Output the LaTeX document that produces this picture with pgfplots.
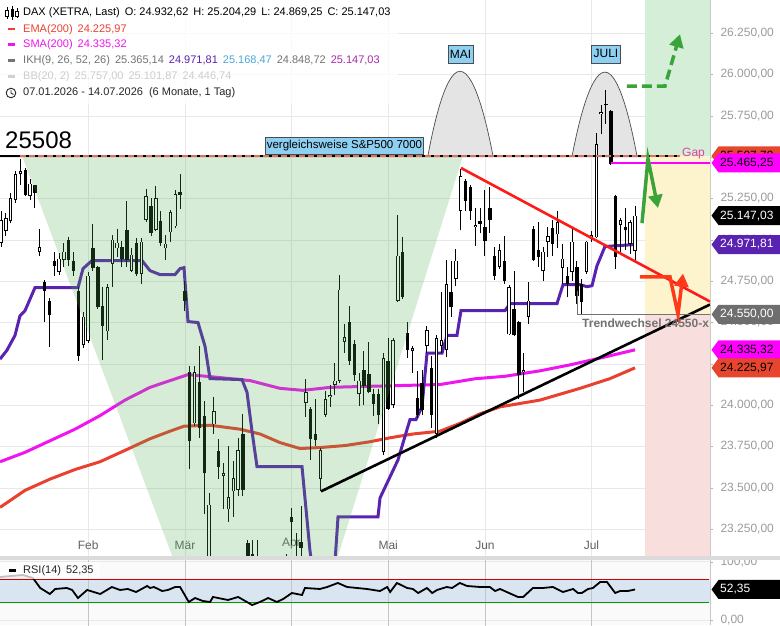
\documentclass[border=0pt]{standalone}
\usepackage{pgfplots}
\pgfplotsset{compat=1.18}
\usepackage{pgfplotstable}
\usepackage{fontspec}
\setmainfont{Liberation Sans}
\usetikzlibrary{arrows.meta}

\definecolor{emac}{HTML}{EA4030}
\definecolor{smac}{HTML}{F014F0}
\definecolor{ikhc}{HTML}{5A22B0}
\definecolor{vgreen}{HTML}{4CAF50}
\definecolor{zgreen}{HTML}{D4EED7}
\definecolor{zyellow}{HTML}{FDF3CD}
\definecolor{zpink}{HTML}{F9DEDE}
\definecolor{cupg}{HTML}{E4E4E4}
\definecolor{boxblue}{HTML}{8DD0F2}
\definecolor{arrg}{HTML}{3AA43A}
\definecolor{arrr}{HTML}{FF3A1A}
\definecolor{dashsal}{HTML}{E07060}
\definecolor{gapc}{HTML}{E040A0}
\definecolor{rsiband}{HTML}{D9E5F1}
\definecolor{gridc}{HTML}{E8E8E8}
\definecolor{tickc}{HTML}{9A9A9A}
\definecolor{trred}{HTML}{FF1A1A}
\definecolor{tagred}{HTML}{E8452E}
\definecolor{tagmag}{HTML}{FF00FF}
\definecolor{taggray}{HTML}{6E6E6E}
\definecolor{ikhblue}{HTML}{4AA8D8}
\definecolor{ikhmag}{HTML}{A62AA8}

\pgfplotstableread{
i o h l c
0 24984 25174 24960 25119
1 25052 25162 25021 25131
2 25113 25285 25101 25254
3 25242 25416 25224 25397
4 25397 25491 25335 25416
6 25267 25366 25242 25341
8 24929 25064 24905 24954
12 24808 24923 24790 24887
13 24881 24984 24838 24929
17 24363 24566 24345 24536
18 24387 24808 24375 24784
22 24446 24735 24393 24717
23 24857 25027 24717 25002
24 24948 25064 24899 24984
27 24814 24948 24808 24911
29 24796 25009 24735 24990
30 25119 25310 25107 25267
32 25058 25323 25052 25254
34 24948 25027 24881 24978
35 25045 25181 24990 25168
36 25082 25304 25070 25279
40 23890 24238 23873 24202
43 23050 23467 22980 23399
44 23884 24048 23826 23966
46 23571 23652 23370 23588
47 23370 23756 23296 23444
48 23479 23663 23324 23560
49 23490 23802 23450 23727
53 23050 23182 22950 23090
56 22800 22950 22700 22900
58 22850 23000 22750 22950
59 22950 23100 22900 23050
63 24013 24161 23931 24078
66 23554 23744 23479 23727
67 23943 24089 23931 24037
68 24049 24125 23990 24061
69 24125 24255 24061 24149
70 24149 24790 24137 24699
71 24381 24494 24315 24410
74 24066 24196 23995 24149
79 23720 24315 23700 24285
81 24001 24405 23984 24393
82 24633 25149 24627 24905
85 24327 24357 24196 24345
88 24357 24482 24315 24452
90 23826 24422 23802 24405
91 24357 24687 24315 24393
92 24333 24881 24291 24735
94 24766 24942 24723 24875
95 25174 25428 25058 25385
98 25076 25193 24966 25089
103 24838 24978 24826 24936
105 24428 24729 24422 24717
108 24202 24315 24078 24214
109 24536 24747 24494 24633
112 24814 24960 24753 24929
113 24990 25076 24899 25021
115 25033 25174 24948 25107
116 24832 24978 24735 24887
118 24808 25076 24753 24990
121 24808 24996 24796 24990
122 25009 25052 24990 25027
123 25015 25647 25009 25578
124 25759 25816 25641 25772
125 25816 25905 25703 25822
128 25089 25131 24917 25119
130 24978 25119 24917 25107
131 24932.62 25204.29 24869.25 25147.03
}\upc

\pgfplotstableread{
i o h l c
5 25422 25435 25267 25273
7 25329 25335 25193 25285
9 24747 24759 24506 24693
10 24633 24651 24351 24548
11 24875 24929 24784 24844
14 25002 25015 24844 24881
15 24875 24929 24784 24814
16 24693 24717 24267 24297
19 24948 25095 24814 24832
20 24838 24844 24584 24596
21 24603 24717 24273 24482
25 24954 24996 24838 24887
26 25058 25236 24838 24881
28 24984 25009 24784 24796
31 25205 25254 25021 25039
33 25113 25174 24966 24984
37 25292 25397 25187 25273
38 24693 24753 24572 24633
39 24202 24238 23612 23785
41 24143 24357 23802 23861
42 23937 24025 23342 23588
45 23721 23797 23554 23629
50 23826 23949 23450 23490
51 23165 23182 23000 23080
52 23100 23182 22980 23060
54 23000 23080 22850 22900
55 22900 23000 22750 22800
57 22900 23050 22800 22850
60 23324 23376 23154 23296
61 23080 23227 22950 23020
62 23170 23393 23050 23135
64 23976 23988 23669 23795
65 23826 24037 23756 23791
72 24506 24602 24244 24267
73 24369 24393 24149 24184
75 24214 24327 24001 24119
76 24190 24381 24072 24078
77 24066 24096 23937 24007
78 24066 24096 23884 23943
80 24267 24405 23972 23976
83 24929 25015 24645 24657
84 24434 24506 24285 24333
86 24043 24208 23920 23943
87 24137 24214 23943 23972
89 24226 24297 23861 23943
93 24687 24875 24536 24596
96 25354 25366 25174 25236
97 25317 25329 25119 25174
99 25113 25193 25039 25095
100 25076 25304 24905 24996
101 25193 25317 25039 25119
102 24905 24960 24759 24784
104 24875 25021 24735 24753
106 24584 24814 24416 24422
107 24506 24512 24037 24184
110 25064 25082 24875 24881
111 24936 25107 24838 24899
114 25070 25119 24905 24978
117 24784 24838 24657 24735
119 24838 24875 24615 24663
120 24735 24765 24554 24627
126 25778 25785 25453 25460
127 25267 25273 24826 24899
129 25076 25193 24936 25058
}\downc

\pgfplotstableread{
x y
-0.2 23382
4.96 23485
10.12 23553
15.29 23611
20.45 23658
25.62 23727
30.79 23797
34.92 23843
37.81 23873
43.18 23879
49.38 23855
53.51 23826
57.64 23774
61.78 23738
65.91 23744
71.07 23756
76.24 23779
80.37 23803
85.12 23826
90.70 23843
94.83 23890
98.97 23948
103.10 23990
111.36 24031
119.63 24102
125.83 24161
131.0 24226
}\ema

\pgfplotstableread{
x y
-0.2 23658
4.96 23715
10.12 23785
15.29 23855
20.45 23937
25.62 24031
30.79 24108
34.92 24149
38.64 24185
43.18 24173
51.45 24149
57.64 24102
62.40 24090
67.98 24108
74.17 24113
82.44 24119
90.70 24125
97.93 24160
104.13 24175
111.36 24208
117.56 24244
123.76 24285
131.0 24335
}\sma

\pgfplotstableread{
x y
-0.2 24279
1.24 24333
2.89 24422
3.93 24542
4.96 24572
7.02 24711
15.91 24711
16.94 24826
18.80 24875
29.13 24875
30.79 24814
32.85 24790
35.95 24790
36.98 24826
37.81 24832
38.64 24506
40.70 24500
42.15 24357
43.18 24161
49.79 24155
50.83 24078
51.86 23843
52.89 23629
62.19 23629
63.84 23119
65.08 22870
68.60 22870
69.63 23324
77.89 23324
78.31 23439
82.02 23669
84.50 23913
85.74 23913
86.98 23990
88.02 24315
91.12 24315
92.15 24422
94.21 24422
95.04 24572
104.13 24572
105.17 24615
114.88 24615
116.12 24729
119.63 24729
121.07 24717
122.11 24723
123.14 24844
124.79 24960
131.0 24972
}\ikh

\pgfplotstableread{
x y
-0.2 73.8
4.5 77.2
6.6 72
8.1 54.9
10.1 44.6
11.2 53.2
13.6 54.9
14.7 51.5
15.9 37.7
17.8 51.5
20.5 44.6
22.9 56.6
24.6 51.5
26.2 53.2
27.9 48
30.2 58.3
30.8 54.9
31.6 56.6
33.3 49.7
34.5 51.5
36.0 56.6
37.0 56.6
38.8 30.9
40.1 37.7
41.7 32.6
43.2 30.9
43.8 39.5
46.9 34.3
49.0 39.5
51.9 25.7
53.5 30.9
55.2 37.7
57.0 30.9
58.3 36
60.1 46.3
62.2 42.9
62.8 54.9
65.9 53.2
67.4 56.6
69.6 63.5
71.5 56.6
75.6 53.2
78.3 49.7
79.8 56.6
80.4 48
81.8 63.5
83.9 54.9
85.1 53.2
86.2 46.3
88.0 54.9
89.1 46.3
90.1 51.5
92.1 56.6
93.2 54.9
94.8 63.5
96.3 58.3
99.0 56.6
101.0 56.6
102.1 49.7
103.1 53.2
106.8 39.5
107.9 39.5
109.9 54.9
112.0 54.9
114.0 56.6
116.1 48
118.2 53.2
119.2 46.3
120.0 46.3
121.3 53.2
122.3 54.9
123.8 65.2
125.2 65.2
126.9 46.3
127.9 49.7
129.5 49.7
131.0 52.35
}\rsi

\newcommand\tagfont{\fontsize{12}{12}\selectfont}
\newcommand\ptag[4]{%
  \fill[#2] ([xshift=1.5pt]#1) -- ([xshift=8.5pt,yshift=9.5pt]#1) -- ([xshift=72pt,yshift=9.5pt]#1) -- ([xshift=72pt,yshift=-9.5pt]#1) -- ([xshift=8.5pt,yshift=-9.5pt]#1) -- cycle;
  \node[anchor=west, text=#3, font=\tagfont, inner sep=0pt] at ([xshift=10pt]#1) {#4};}

\begin{document}
\begin{tikzpicture}
\useasboundingbox (0pt,0pt) rectangle (780pt,625pt);
\begin{axis}[
  at={(0pt,69pt)}, anchor=south west,
  scale only axis, width=710pt, height=556pt,
  xmin=-0.207, xmax=146.49,
  ymin=23088, ymax=26451,
  scaled y ticks=false,
  axis x line*=bottom, axis y line*=right,
  x axis line style={draw=none},
  y axis line style={draw=black!22},
  xtick={18,38,60,80,100,122},
  xticklabels={Feb,Mär,Apr,Mai,Jun,Jul},
  xticklabel style={anchor=south, yshift=6pt, font=\fontsize{12}{12}\selectfont, text=black!62},
  xtick style={draw=none},
  ytick={23250,23500,23750,24000,24250,24500,24750,25000,25250,25500,25750,26000,26250},
  yticklabels={{23.250,00},{23.500,00},{23.750,00},{24.000,00},{},{24.500,00},{24.750,00},{25.000,00},{25.250,00},{},{25.750,00},{26.000,00},{26.250,00}},
  yticklabel style={font=\fontsize{12}{12}\selectfont, text=tickc, xshift=4pt},
  ytick style={black!30},
  tick align=outside, major tick length=3pt,
  minor tick num=0,
  grid=major, major grid style={gridc, line width=0.7pt},
  clip mode=individual,
]
% right zones
\addplot[fill=zgreen, draw=none, forget plot] coordinates {(133.06,25508)(147,25508)(147,26600)(133.06,26600)} -- cycle;
\addplot[fill=zyellow, draw=none, forget plot] coordinates {(133.06,24550)(147,24550)(147,25508)(133.06,25508)} -- cycle;
\addplot[fill=zpink, draw=none, forget plot] coordinates {(133.06,23000)(147,23000)(147,24550)(133.06,24550)} -- cycle;
% cups
\draw[fill=cupg, draw=black!70, line width=0.7pt] (axis cs:88.2,25508) parabola bend (axis cs:94.83,26020) (axis cs:101.65,25508);
\draw[fill=cupg, draw=black!70, line width=0.7pt] (axis cs:118.0,25508) parabola bend (axis cs:124.79,26015) (axis cs:131.4,25508);
% indicator lines
\addplot[emac, line width=3pt, forget plot] table[x=x,y=y] {\ema};
\addplot[smac, line width=3pt, forget plot] table[x=x,y=y] {\sma};
\addplot[ikhc, line width=3pt, forget plot] table[x=x,y=y] {\ikh};
% candles: wicks
\addplot[draw=none, mark=none, forget plot, error bars/.cd, y dir=plus, y explicit, error mark=none, error bar style={draw=black, solid, line width=1pt}] table[x=i, y=l, y error plus expr={\thisrow{h}-\thisrow{l}}] {\upc};
\addplot[draw=none, mark=none, forget plot, error bars/.cd, y dir=plus, y explicit, error mark=none, error bar style={draw=black, solid, line width=1pt}] table[x=i, y=l, y error plus expr={\thisrow{h}-\thisrow{l}}] {\downc};
% bodies
\addplot[draw=none, mark=none, forget plot, error bars/.cd, y dir=plus, y explicit, error mark=none, error bar style={draw=black, solid, line width=3.4pt}] table[x=i, y=c, y error plus expr={max(\thisrow{o}-\thisrow{c},7)}] {\downc};
\addplot[draw=none, mark=none, forget plot, error bars/.cd, y dir=plus, y explicit, error mark=none, error bar style={draw=black, solid, line width=3.4pt}] table[x=i, y=o, y error plus expr={max(\thisrow{c}-\thisrow{o},8)}] {\upc};
\addplot[draw=none, mark=none, forget plot, error bars/.cd, y dir=plus, y explicit, error mark=none, error bar style={draw=white, solid, line width=1.5pt}] table[x=i, y expr={\thisrow{o}+5}, y error plus expr={max(\thisrow{c}-\thisrow{o}-10,0)}] {\upc};
% green V overlay
\addplot[fill=vgreen, fill opacity=0.23, draw=none, forget plot] coordinates {(4.34,25508)(95.45,25508)(68.7,23000)(36.5,23000)} -- cycle;
% horizontal 25508 line
\addplot[black, line width=2.6pt, forget plot] coordinates {(-0.3,25508)(140.3,25508)};
\addplot[dashsal, line width=2pt, dash pattern=on 6pt off 3pt, forget plot] coordinates {(4.0,25508)(140.3,25508)};
% gap line
\addplot[tagmag, line width=1.2pt, forget plot] coordinates {(126.03,25465.25)(146.49,25465.25)};
% trend lines
\addplot[trred, line width=2.6pt, forget plot] coordinates {(95.04,25435)(146.49,24627)};
\addplot[black, line width=2.6pt, forget plot] coordinates {(66.12,23479)(146.49,24609)};
\addplot[black!55, line width=0.9pt, forget plot] coordinates {(119.0,24693)(119.0,24550)(146.49,24550)};
% arrows
\draw[arrg, line width=3.5pt, dash pattern=on 10pt off 5pt, -{Triangle[width=14pt,length=13pt]}] (axis cs:129.34,25930) -- (axis cs:137.19,25930) -- (axis cs:140.29,26244);
\draw[arrg, line width=3.5pt, -{Triangle[width=14pt,length=13pt]}] (axis cs:132.44,25101) -- (axis cs:133.68,25491) -- (axis cs:135.74,25193);
\draw[arrr, line width=3.5pt, -{Triangle[width=14pt,length=13pt]}] (axis cs:132.02,24777) -- (axis cs:138.22,24777) -- (axis cs:139.88,24550) -- (axis cs:140.91,24796);
% annotations
\node[fill=boxblue, draw=black!70, inner xsep=2pt, inner ysep=0pt, minimum height=18pt, font=\fontsize{12}{12}\selectfont] at (axis cs:94.94,26125) {MAI};
\node[fill=boxblue, draw=black!70, inner xsep=2pt, inner ysep=0pt, minimum height=18pt, font=\fontsize{12}{12}\selectfont] at (axis cs:125.0,26125) {JULI};
\node[fill=boxblue, draw=black!70, inner xsep=1.5pt, inner ysep=0pt, minimum height=17pt, font=\fontsize{11.5}{11.5}\selectfont] at (axis cs:70.97,25572) {vergleichsweise S\&P500 7000};
\node[anchor=west, inner sep=0pt, font=\fontsize{24}{24}\selectfont] at (axis cs:0.83,25603) {25508};
\node[anchor=west, inner sep=0pt, text=gapc, font=\fontsize{12}{12}\selectfont] at (axis cs:140.7,25525) {Gap};
\node[anchor=west, inner sep=0pt, text=black!55, font=\bfseries\fontsize{12}{12}\selectfont] at (axis cs:120.05,24494) {Trendwechsel 24550-x};
% tag anchors
\coordinate (TA) at (axis cs:146.49,25507.79);
\coordinate (TB) at (axis cs:146.49,25465.25);
\coordinate (TC) at (axis cs:146.49,25147.03);
\coordinate (TD) at (axis cs:146.49,24971.81);
\coordinate (TE) at (axis cs:146.49,24550);
\coordinate (TF) at (axis cs:146.49,24335.32);
\coordinate (TG) at (axis cs:146.49,24225.97);
\end{axis}

\begin{axis}[
  at={(0pt,0pt)}, anchor=south west,
  scale only axis, width=710pt, height=65pt,
  xmin=-0.207, xmax=146.49, ymin=-8.58, ymax=102.9,
  axis background/.style={fill=black!2},
  axis x line*=bottom, axis y line*=right,
  x axis line style={draw=none}, y axis line style={draw=black!22},
  xtick=\empty,
  ytick={0,100}, yticklabels={{0,00},{100,00}},
  yticklabel style={font=\fontsize{12}{12}\selectfont, text=tickc, xshift=4pt},
  ytick style={black!30},
  tick align=outside, major tick length=3pt,
  ymajorgrids=true, major grid style={gridc, line width=0.7pt},
  clip mode=individual,
]
\addplot[fill=rsiband, draw=none, forget plot] coordinates {(-1,30)(150,30)(150,70)(-1,70)} -- cycle;
\addplot[gridc!85!black, line width=0.7pt, forget plot] coordinates {(18,-10)(18,110)};
\addplot[gridc!85!black, line width=0.7pt, forget plot] coordinates {(38,-10)(38,110)};
\addplot[gridc!85!black, line width=0.7pt, forget plot] coordinates {(60,-10)(60,110)};
\addplot[gridc!85!black, line width=0.7pt, forget plot] coordinates {(80,-10)(80,110)};
\addplot[gridc!85!black, line width=0.7pt, forget plot] coordinates {(100,-10)(100,110)};
\addplot[gridc!85!black, line width=0.7pt, forget plot] coordinates {(122,-10)(122,110)};
\addplot[fill=red!25, draw=none, forget plot] coordinates {(-0.2,70)(-0.2,73.8)(4.5,77.2)(6.6,72)(7.0,70)} -- cycle;
\addplot[red!80!black, line width=1.2pt, forget plot] coordinates {(-1,70)(146.2,70)};
\addplot[green!60!black, line width=1.5pt, forget plot] coordinates {(-1,30)(146.2,30)};
\addplot[black, line width=1.8pt, forget plot] table[x=x,y=y] {\rsi};
\coordinate (TR) at (axis cs:146.49,52.35);
\end{axis}

% separator
\fill[black!14] (0pt,65pt) rectangle (780pt,69pt);

% tags
\ptag{TA}{tagred}{black}{25.507,79}
\ptag{TB}{tagmag}{black}{25.465,25}
\ptag{TC}{black}{white}{25.147,03}
\ptag{TD}{ikhc}{white}{24.971,81}
\ptag{TE}{taggray}{white}{24.550,00}
\ptag{TF}{tagmag}{black}{24.335,32}
\ptag{TG}{tagred}{black}{24.225,97}
\ptag{TR}{black}{white}{52,35}

% legend
\begin{scope}[x=1pt, y=1pt, font=\fontsize{11}{13}\selectfont]
\fill[white, opacity=0.75] (0,521) rectangle (398,625);
\draw[black, line width=0.8pt] (7,606) -- (7,618);
\draw[black, line width=0.8pt, fill=white] (5.5,609) rectangle (8.5,615);
\draw[black, line width=0.8pt] (12,605) -- (12,619);
\fill[black] (10.5,608) rectangle (13.5,616);
\draw[black, line width=0.8pt] (17,607) -- (17,617);
\draw[black, line width=0.8pt, fill=white] (15.5,609) rectangle (18.5,614);
\node[anchor=west, inner sep=0pt] at (23,612) {DAX (XETRA, Last)\hspace{5pt}O: 24.932,62\hspace{5pt}H: 25.204,29\hspace{5pt}L: 24.869,25\hspace{5pt}C: 25.147,03};
\fill[emac] (8,594.5) rectangle (15,597);
\node[anchor=west, inner sep=0pt, text=emac] at (23,595.5) {EMA(200)\hspace{5pt}24.225,97};
\fill[smac] (8,579) rectangle (15,581.5);
\node[anchor=west, inner sep=0pt, text=smac] at (23,580) {SMA(200)\hspace{5pt}24.335,32};
\fill[black!55] (8,563) rectangle (15,565.5);
\node[anchor=west, inner sep=0pt, text=black!55] at (23,564) {IKH(9, 26, 52, 26)\hspace{5pt}25.365,14\hspace{5pt}\textcolor{ikhc}{24.971,81}\hspace{5pt}\textcolor{ikhblue}{25.168,47}\hspace{5pt}\textcolor{black!55}{24.848,72}\hspace{5pt}\textcolor{ikhmag}{25.147,03}};
\fill[black!18] (8,547) rectangle (15,549.5);
\node[anchor=west, inner sep=0pt, text=black!20] at (23,548) {BB(20, 2)\hspace{5pt}25.757,00\hspace{5pt}25.101,87\hspace{5pt}24.446,74};
\draw[black!85, line width=0.9pt] (11,532) circle (4.8);
\draw[black!85, line width=0.9pt] (11,535) -- (11,532) -- (13.5,530.5);
\node[anchor=west, inner sep=0pt, text=black!85] at (23,532) {07.01.2026 - 14.07.2026\hspace{6pt}(6 Monate, 1 Tag)};
% RSI legend
\fill[white, opacity=0.75] (0,46) rectangle (100,63);
\fill[black] (9,53.5) rectangle (16,56);
\node[anchor=west, inner sep=0pt, text=black!85] at (23,54.5) {RSI(14)\hspace{5pt}52,35};
\end{scope}
\end{tikzpicture}
\end{document}
